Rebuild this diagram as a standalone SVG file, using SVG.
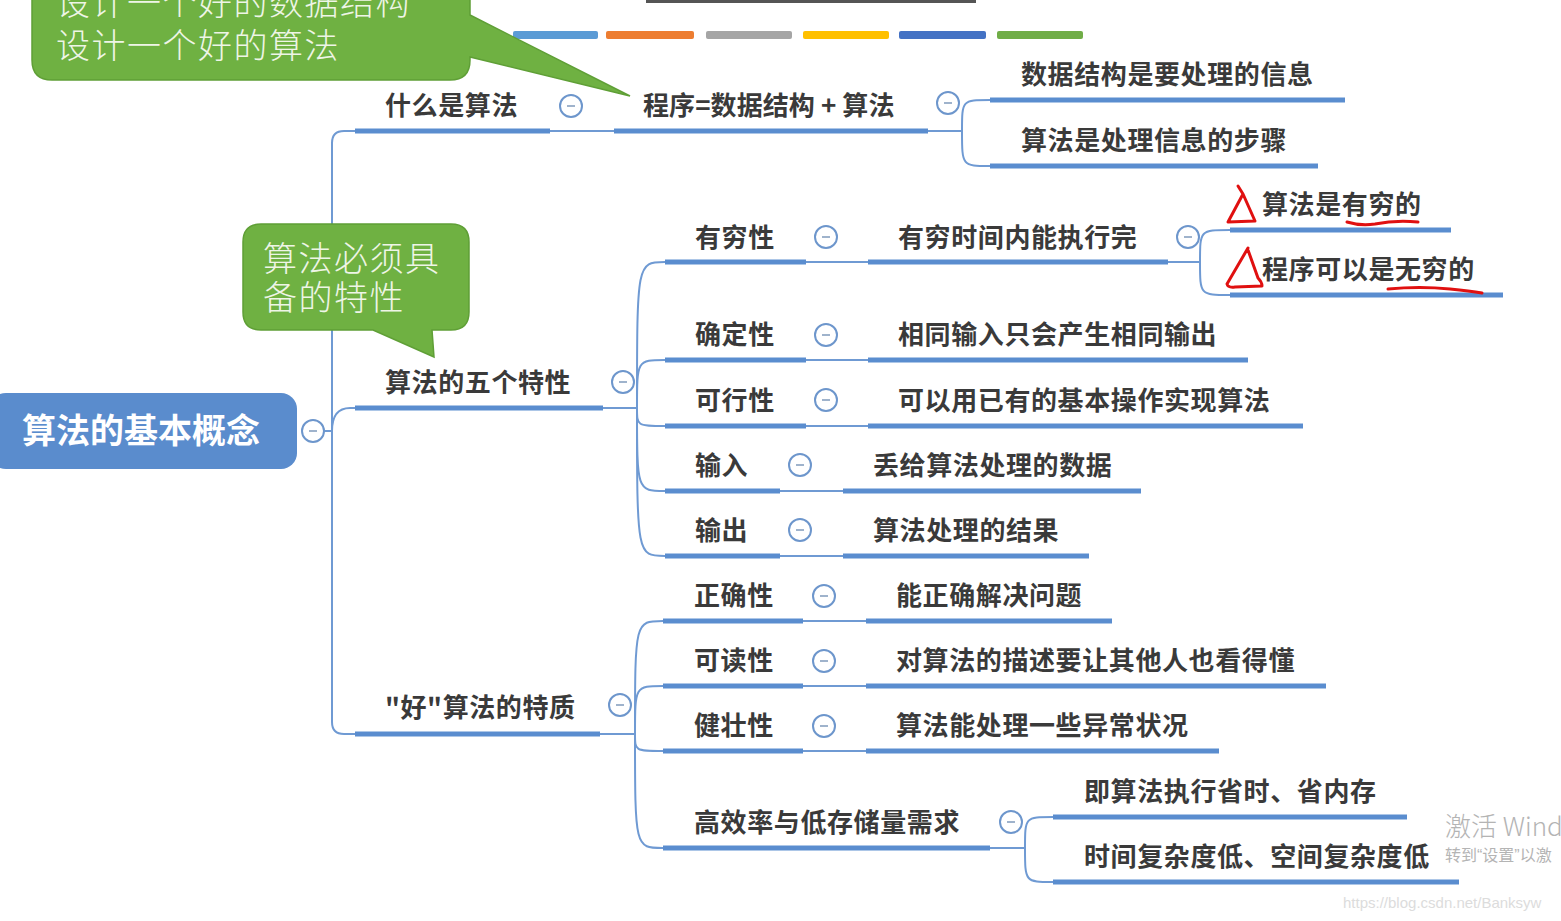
<svg xmlns="http://www.w3.org/2000/svg" width="1561" height="921" viewBox="0 0 1561 921">
<style>
.bar{stroke:#5a8dcf;stroke-width:5;fill:none}
.ln{stroke:#6f9ad3;stroke-width:2;fill:none}
.t{font-family:"Noto Sans CJK SC","Noto Sans",sans-serif;font-size:26px;font-weight:bold;fill:#3a3a3a;letter-spacing:0.6px}
.ct{font-family:"Noto Sans CJK SC","Noto Sans",sans-serif;font-size:34px;font-weight:300;fill:#eef5e6;letter-spacing:1.5px}
.cc{fill:#fff;stroke:#6d96cc;stroke-width:2}
.cd{stroke:#9fb3cc;stroke-width:2}
.red{stroke:#e01010;stroke-width:3;fill:none;stroke-linecap:round;stroke-linejoin:round}
.call{fill:#6fb142;stroke:#5f9f36;stroke-width:1.5}
</style>
<defs>
<g id="col"><circle class="cc" r="11"/><line class="cd" x1="-4" y1="0" x2="4" y2="0"/></g>
</defs>
<rect width="1561" height="921" fill="#fff"/>
<rect x="646" y="0" width="330" height="3" fill="#555"/>
<g id="palette">
<rect x="513" y="31" width="85" height="8" rx="2" fill="#5b9bd5"/>
<rect x="606" y="31" width="88" height="8" rx="2" fill="#ed7d31"/>
<rect x="706" y="31" width="86" height="8" rx="2" fill="#a5a5a5"/>
<rect x="803" y="31" width="86" height="8" rx="2" fill="#ffc000"/>
<rect x="899" y="31" width="87" height="8" rx="2" fill="#4472c4"/>
<rect x="997" y="31" width="86" height="8" rx="2" fill="#70ad47"/>
</g>
<g id="connectors">
<path class="ln" d="M324,431 H332"/>
<path class="ln" d="M332,431 V143 Q332,131 344,131 H355"/>
<path class="ln" d="M332,431 Q332,408 350,408 H355"/>
<path class="ln" d="M332,431 V722 Q332,734 344,734 H355"/>
<path class="ln" d="M550,131 H614"/>
<path class="ln" d="M928,131 H962"/>
<path class="ln" d="M962,131 C962,100 962,100 990,100"/>
<path class="ln" d="M962,131 C962,166 962,166 990,166"/>
<path class="ln" d="M603,408 H637"/>
<path class="ln" d="M637,408 C637,262 637,262 665,262"/>
<path class="ln" d="M637,408 C637,360 637,360 665,360"/>
<path class="ln" d="M637,408 C637,426 637,426 665,426"/>
<path class="ln" d="M637,408 C637,491 637,491 665,491"/>
<path class="ln" d="M637,408 C637,556 637,556 665,556"/>
<path class="ln" d="M806,262 H868"/>
<path class="ln" d="M806,360 H868"/>
<path class="ln" d="M806,426 H868"/>
<path class="ln" d="M780,491 H843"/>
<path class="ln" d="M780,556 H843"/>
<path class="ln" d="M1168,262 H1200"/>
<path class="ln" d="M1200,262 C1200,230 1200,230 1230,230"/>
<path class="ln" d="M1200,262 C1200,295 1200,295 1230,295"/>
<path class="ln" d="M600,734 H635"/>
<path class="ln" d="M635,734 C635,621 635,621 663,621"/>
<path class="ln" d="M635,734 C635,686 635,686 663,686"/>
<path class="ln" d="M635,734 C635,751 635,751 663,751"/>
<path class="ln" d="M635,734 C635,848 635,848 663,848"/>
<path class="ln" d="M803,621 H866"/>
<path class="ln" d="M803,686 H866"/>
<path class="ln" d="M803,751 H866"/>
<path class="ln" d="M990,848 H1025"/>
<path class="ln" d="M1025,848 C1025,817 1025,817 1053,817"/>
<path class="ln" d="M1025,848 C1025,882 1025,882 1053,882"/>
</g>
<g id="root">
<rect x="-10" y="393" width="307" height="76" rx="16" fill="#5a8ccd"/>
<text x="22" y="443" font-family="Noto Sans CJK SC, sans-serif" font-size="34" font-weight="bold" fill="#fff">算法的基本概念</text>
<use href="#col" x="313" y="431"/>
</g>
<g id="n-what">
<line class="bar" x1="355" y1="131" x2="550" y2="131"/>
<text class="t" x="385" y="115">什么是算法</text>
<use href="#col" x="571" y="106"/>
</g>
<g id="n-prog">
<line class="bar" x1="614" y1="131" x2="928" y2="131"/>
<text class="t" x="643" y="115" textLength="252" lengthAdjust="spacing">程序=数据结构 + 算法</text>
<use href="#col" x="948" y="103"/>
</g>
<g id="n-ds">
<line class="bar" x1="990" y1="100" x2="1345" y2="100"/>
<text class="t" x="1021" y="84">数据结构是要处理的信息</text>
</g>
<g id="n-alg">
<line class="bar" x1="990" y1="166" x2="1318" y2="166"/>
<text class="t" x="1021" y="150">算法是处理信息的步骤</text>
</g>
<g id="n-five">
<line class="bar" x1="355" y1="408" x2="603" y2="408"/>
<text class="t" x="385" y="392">算法的五个特性</text>
<use href="#col" x="623" y="382"/>
</g>
<g id="n-finite">
<line class="bar" x1="665" y1="262" x2="806" y2="262"/>
<text class="t" x="695" y="247">有穷性</text>
<use href="#col" x="826" y="237"/>
</g>
<g id="n-finite-d">
<line class="bar" x1="868" y1="262" x2="1168" y2="262"/>
<text class="t" x="898" y="247">有穷时间内能执行完</text>
<use href="#col" x="1188" y="237"/>
</g>
<g id="n-fin1">
<line class="bar" x1="1230" y1="230" x2="1451" y2="230"/>
<text class="t" x="1262" y="214">算法是有穷的</text>
</g>
<g id="n-fin2">
<line class="bar" x1="1230" y1="295" x2="1503" y2="295"/>
<text class="t" x="1262" y="279">程序可以是无穷的</text>
</g>
<g id="n-det">
<line class="bar" x1="665" y1="360" x2="806" y2="360"/>
<text class="t" x="695" y="344">确定性</text>
<use href="#col" x="826" y="335"/>
<line class="bar" x1="868" y1="360" x2="1248" y2="360"/>
<text class="t" x="898" y="344">相同输入只会产生相同输出</text>
</g>
<g id="n-feas">
<line class="bar" x1="665" y1="426" x2="806" y2="426"/>
<text class="t" x="695" y="410">可行性</text>
<use href="#col" x="826" y="400"/>
<line class="bar" x1="868" y1="426" x2="1303" y2="426"/>
<text class="t" x="898" y="410">可以用已有的基本操作实现算法</text>
</g>
<g id="n-in">
<line class="bar" x1="665" y1="491" x2="780" y2="491"/>
<text class="t" x="695" y="475">输入</text>
<use href="#col" x="800" y="465"/>
<line class="bar" x1="843" y1="491" x2="1141" y2="491"/>
<text class="t" x="873" y="475">丢给算法处理的数据</text>
</g>
<g id="n-out">
<line class="bar" x1="665" y1="556" x2="780" y2="556"/>
<text class="t" x="695" y="540">输出</text>
<use href="#col" x="800" y="530"/>
<line class="bar" x1="843" y1="556" x2="1089" y2="556"/>
<text class="t" x="873" y="540">算法处理的结果</text>
</g>
<g id="n-good">
<line class="bar" x1="355" y1="734" x2="600" y2="734"/>
<text class="t" x="385" y="717">"好"算法的特质</text>
<use href="#col" x="620" y="705"/>
</g>
<g id="n-correct">
<line class="bar" x1="663" y1="621" x2="803" y2="621"/>
<text class="t" x="694" y="605">正确性</text>
<use href="#col" x="824" y="596"/>
<line class="bar" x1="866" y1="621" x2="1112" y2="621"/>
<text class="t" x="896" y="605">能正确解决问题</text>
</g>
<g id="n-read">
<line class="bar" x1="663" y1="686" x2="803" y2="686"/>
<text class="t" x="694" y="670">可读性</text>
<use href="#col" x="824" y="661"/>
<line class="bar" x1="866" y1="686" x2="1326" y2="686"/>
<text class="t" x="896" y="670">对算法的描述要让其他人也看得懂</text>
</g>
<g id="n-robust">
<line class="bar" x1="663" y1="751" x2="803" y2="751"/>
<text class="t" x="694" y="735">健壮性</text>
<use href="#col" x="824" y="726"/>
<line class="bar" x1="866" y1="751" x2="1219" y2="751"/>
<text class="t" x="896" y="735">算法能处理一些异常状况</text>
</g>
<g id="n-eff">
<line class="bar" x1="663" y1="848" x2="990" y2="848"/>
<text class="t" x="694" y="832">高效率与低存储量需求</text>
<use href="#col" x="1011" y="822"/>
</g>
<g id="n-eff1">
<line class="bar" x1="1053" y1="817" x2="1407" y2="817"/>
<text class="t" x="1084" y="801">即算法执行省时、省内存</text>
</g>
<g id="n-eff2">
<line class="bar" x1="1053" y1="882" x2="1459" y2="882"/>
<text class="t" x="1084" y="866">时间复杂度低、空间复杂度低</text>
</g>
<g id="callout1">
<path class="call" d="M52,-20 H450 Q470,-20 470,0 V15 L630,96 L470,57 V60 Q470,80 450,80 H52 Q32,80 32,60 V0 Q32,-20 52,-20 Z"/>
<text class="ct" x="56" y="15">设计一个好的数据结构</text>
<text class="ct" x="56" y="58">设计一个好的算法</text>
</g>
<g id="callout2">
<path class="call" d="M261,224 H451 Q469,224 469,242 V312 Q469,330 451,330 H432 L434,357 L373,330 H261 Q243,330 243,312 V242 Q243,224 261,224 Z"/>
<text class="ct" x="263" y="271">算法必须具</text>
<text class="ct" x="263" y="310">备的特性</text>
</g>
<g id="annotations">
<path class="red" d="M1238,186 L1243,194 L1228,222 L1255,221 L1243,194"/>
<path class="red" d="M1248,248 L1227,284 Q1228,288 1235,287 L1262,286 Q1262,282 1258,278 L1248,250"/>
<path class="red" d="M1347,222 Q1360,226 1375,224 Q1395,220 1418,222"/>
<path class="red" d="M1388,289 Q1420,286 1450,289 Q1470,291 1482,293"/>
</g>
<g id="watermark">
<text x="1445" y="836" font-size="26" fill="#b4b4b4" font-family="Noto Sans CJK SC, sans-serif" font-weight="300">激活 Wind</text>
<text x="1445" y="861" font-size="16" fill="#b4b4b4" font-family="Liberation Sans, Noto Sans CJK SC, sans-serif">转到“设置”以激</text>
<text x="1343" y="908" font-size="15" fill="#dcdcdc" font-family="Liberation Sans, sans-serif">https://blog.csdn.net/Banksyw</text>
</g>
</svg>
